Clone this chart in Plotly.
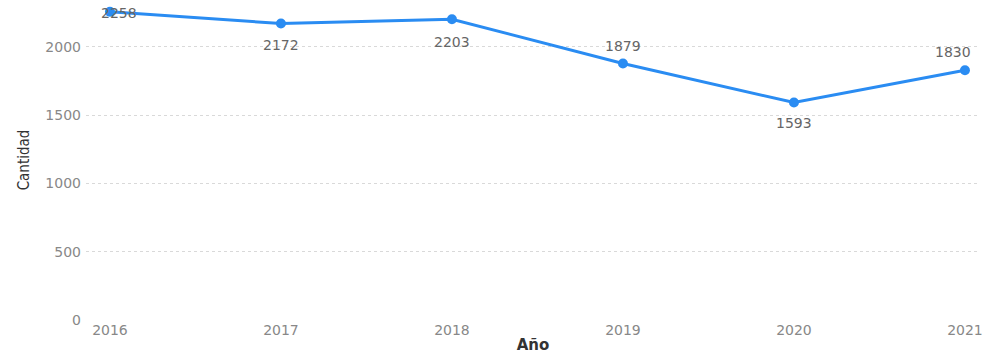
import plotly.graph_objects as go

years = ["2016", "2017", "2018", "2019", "2020", "2021"]
cantidad = [2258, 2172, 2203, 1879, 1593, 1830]
label_xshift = [9, 0, 0, 0, 0, -12]
label_yshift = [-1, -22, -23, 17, -20, 18]
y_ticks = [0, 500, 1000, 1500, 2000]

x_idx = list(range(len(years)))

fig = go.Figure()
fig.add_trace(go.Scatter(
    x=x_idx,
    y=cantidad,
    mode="lines+markers",
    line=dict(color="#2A8CF2", width=3),
    marker=dict(color="#2A8CF2", size=10),
    cliponaxis=False,
    showlegend=False,
))

for xi, v, dx, dy in zip(x_idx, cantidad, label_xshift, label_yshift):
    fig.add_annotation(
        x=xi, y=v, text=str(v), showarrow=False,
        xanchor="center", yanchor="middle",
        xshift=dx, yshift=dy,
        font=dict(family="DejaVu Sans, sans-serif", size=14, color="#666666"),
    )

fig.update_layout(
    width=984, height=360,
    margin=dict(l=86, r=4, t=0, b=40),
    paper_bgcolor="white",
    plot_bgcolor="white",
    font=dict(family="DejaVu Sans, sans-serif", color="#888888", size=14),
    xaxis=dict(
        tickmode="array",
        tickvals=x_idx,
        ticktext=years,
        range=[-0.14, 5.088],
        showgrid=False,
        zeroline=False,
        showline=False,
        ticks="",
        tickfont=dict(size=14, color="#888888"),
        title=dict(text="<b>Año</b>", font=dict(family="DejaVu Sans, sans-serif", size=15, color="#333333"), standoff=2),
    ),
    yaxis=dict(
        range=[0, 2344],
        tickvals=y_ticks,
        showgrid=True,
        gridcolor="#D9D9D9",
        griddash="dot",
        gridwidth=1,
        zeroline=False,
        showline=False,
        ticks="",
        ticklabelstandoff=4,
        tickfont=dict(size=14, color="#888888"),
        title=dict(text="Cantidad", font=dict(family="DejaVu Sans Condensed, sans-serif", size=15, color="#333333"), standoff=12),
    ),
)

fig.write_html(
    "out.html",
    config={"displayModeBar": False},
    post_script="document.body.style.margin='0';document.body.style.overflow='hidden';",
)
